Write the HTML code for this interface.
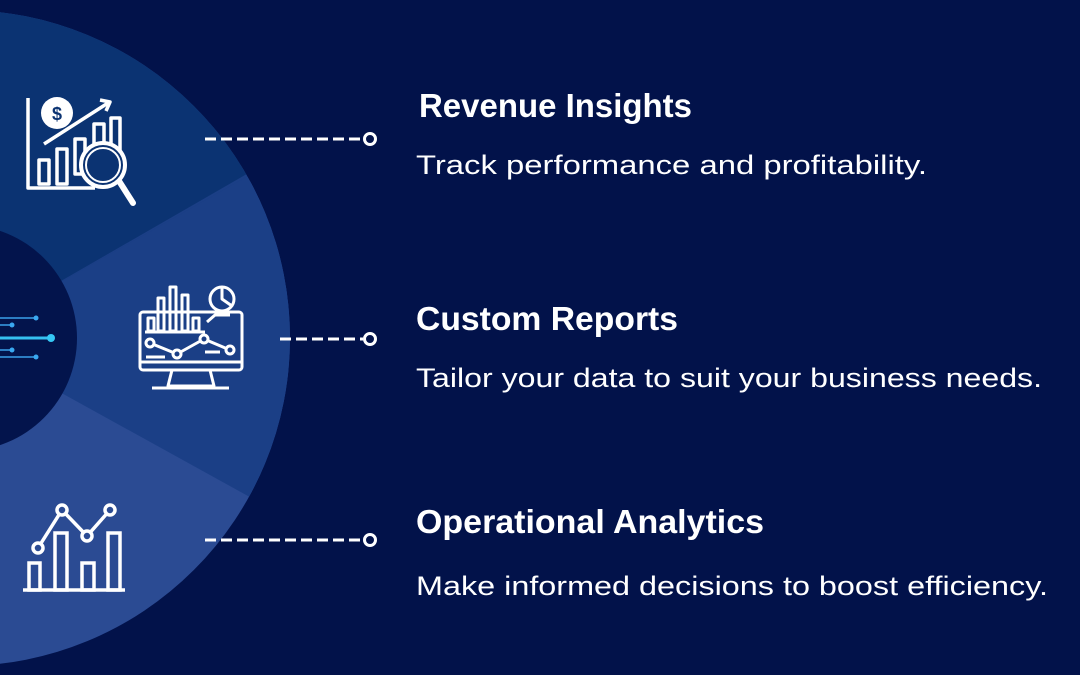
<!DOCTYPE html>
<html><head><meta charset="utf-8"><style>
html,body{margin:0;padding:0;background:#02124a;}
svg{display:block}
text{font-family:"Liberation Sans",sans-serif;fill:#fff}
</style></head><body>
<svg width="1080" height="675" viewBox="0 0 1080 675" xmlns="http://www.w3.org/2000/svg">
<rect width="1080" height="675" fill="#02124a"/>
<defs><clipPath id="c"><circle cx="-38" cy="338" r="328"/></clipPath></defs>
<g clip-path="url(#c)">
<rect x="-400" y="0" width="800" height="675" fill="#2b4b93"/>
<polygon points="-38,338 400,90 400,-10 -400,-10 -400,338" fill="#0b3372"/>
<polygon points="-38,338 400,90 400,580" fill="#1b3f86"/>
<polygon points="-38,338 400,90 245,175" fill="#1b3f86"/>
</g>
<circle cx="-36" cy="338" r="113" fill="#03144c"/>
<g stroke="#3aa0ea" stroke-width="1.5">
<line x1="0" y1="318" x2="36" y2="318"/><line x1="0" y1="325" x2="12" y2="325"/>
<line x1="0" y1="350" x2="12" y2="350"/><line x1="0" y1="357" x2="36" y2="357"/>
<line x1="0" y1="338" x2="51" y2="338" stroke="#35c0f0" stroke-width="3"/>
</g>
<g fill="#3aa8f0"><circle cx="36" cy="318" r="2.5"/><circle cx="12" cy="325" r="2.5"/><circle cx="12" cy="350" r="2.5"/><circle cx="36" cy="357" r="2.5"/><circle cx="51" cy="338" r="4" fill="#35c8f5"/></g>
<g stroke="#fff" stroke-width="3" fill="none">
<line x1="205" y1="139" x2="363" y2="139" stroke-dasharray="11,5"/>
<circle cx="370" cy="139" r="5.5"/>
<line x1="280" y1="339" x2="363" y2="339" stroke-dasharray="11,5"/>
<circle cx="370" cy="339" r="5.5"/>
<line x1="205" y1="540" x2="363" y2="540" stroke-dasharray="11,5"/>
<circle cx="370" cy="540" r="5.5"/>
</g>
<g stroke="#fff" stroke-width="3.5" fill="none" stroke-linejoin="round">
<polyline points="28,98 28,188 95,188"/>
<rect x="39" y="160" width="10" height="24"/><rect x="57" y="149" width="10" height="35"/>
<rect x="75" y="139" width="10" height="35"/><rect x="94" y="124" width="10" height="30"/><rect x="111" y="118" width="9" height="35"/>
<polyline points="44,144 108,103"/><polyline points="100,100 110,102 106,111"/>
<line x1="119" y1="181" x2="133" y2="203" stroke-width="6" stroke-linecap="round"/>
<circle cx="103" cy="165" r="22" stroke-width="4" fill="#0b3372"/>
<circle cx="103" cy="165" r="17" stroke-width="2"/>
</g>
<circle cx="57" cy="113" r="16" fill="#fff"/>
<text x="57" y="120" text-anchor="middle" font-size="18" font-weight="bold" style="fill:#0b3372">$</text>
<g stroke="#fff" stroke-width="3" fill="none" stroke-linejoin="round">
<rect x="140" y="312" width="102" height="58" rx="3"/>
<line x1="140" y1="362" x2="242" y2="362"/>
<polyline points="172,370 168,386 214,386 210,370"/>
<line x1="152" y1="388" x2="229" y2="388"/>
<rect x="148" y="318" width="6" height="13"/><rect x="158" y="298" width="6" height="33"/><rect x="170" y="287" width="6" height="44"/><rect x="182" y="295" width="6" height="36"/><rect x="193" y="318" width="6" height="13"/>
<line x1="145" y1="332" x2="205" y2="332"/>
<circle cx="222" cy="299" r="12"/><polyline points="222,287 222,299 232,306"/>
<polyline points="207,322 215,315 230,315"/>
<polyline points="150,343 177,354 204,339 230,350"/>
<line x1="146" y1="357" x2="165" y2="357"/><line x1="205" y1="352" x2="220" y2="352"/>
</g>
<g stroke="#fff" stroke-width="3"><circle cx="150" cy="343" r="4" fill="#1b3f86"/><circle cx="177" cy="354" r="4" fill="#1b3f86"/><circle cx="204" cy="339" r="4" fill="#1b3f86"/><circle cx="230" cy="350" r="4" fill="#1b3f86"/></g>
<g stroke="#fff" stroke-width="3.5" fill="none">
<line x1="23" y1="590" x2="125" y2="590"/>
<rect x="29" y="563" width="11" height="27"/><rect x="55" y="533" width="12" height="57"/><rect x="82" y="563" width="12" height="27"/><rect x="108" y="533" width="12" height="57"/>
<polyline points="38,548 62,510 87,536 110,510"/>
<circle cx="38" cy="548" r="5" fill="#2b4b93"/><circle cx="62" cy="510" r="5" fill="#2b4b93"/><circle cx="87" cy="536" r="5" fill="#2b4b93"/><circle cx="110" cy="510" r="5" fill="#2b4b93"/>
</g>
<text x="419" y="117" font-size="33" font-weight="bold" textLength="273" lengthAdjust="spacingAndGlyphs">Revenue Insights</text>
<text x="416" y="174" font-size="27" textLength="511" lengthAdjust="spacingAndGlyphs">Track performance and profitability.</text>
<text x="416" y="330" font-size="33" font-weight="bold" textLength="262" lengthAdjust="spacingAndGlyphs">Custom Reports</text>
<text x="416" y="387" font-size="27" textLength="626" lengthAdjust="spacingAndGlyphs">Tailor your data to suit your business needs.</text>
<text x="416" y="533" font-size="33" font-weight="bold" textLength="348" lengthAdjust="spacingAndGlyphs">Operational Analytics</text>
<text x="416" y="595" font-size="27" textLength="632" lengthAdjust="spacingAndGlyphs">Make informed decisions to boost efficiency.</text>
</svg>
</body></html>
